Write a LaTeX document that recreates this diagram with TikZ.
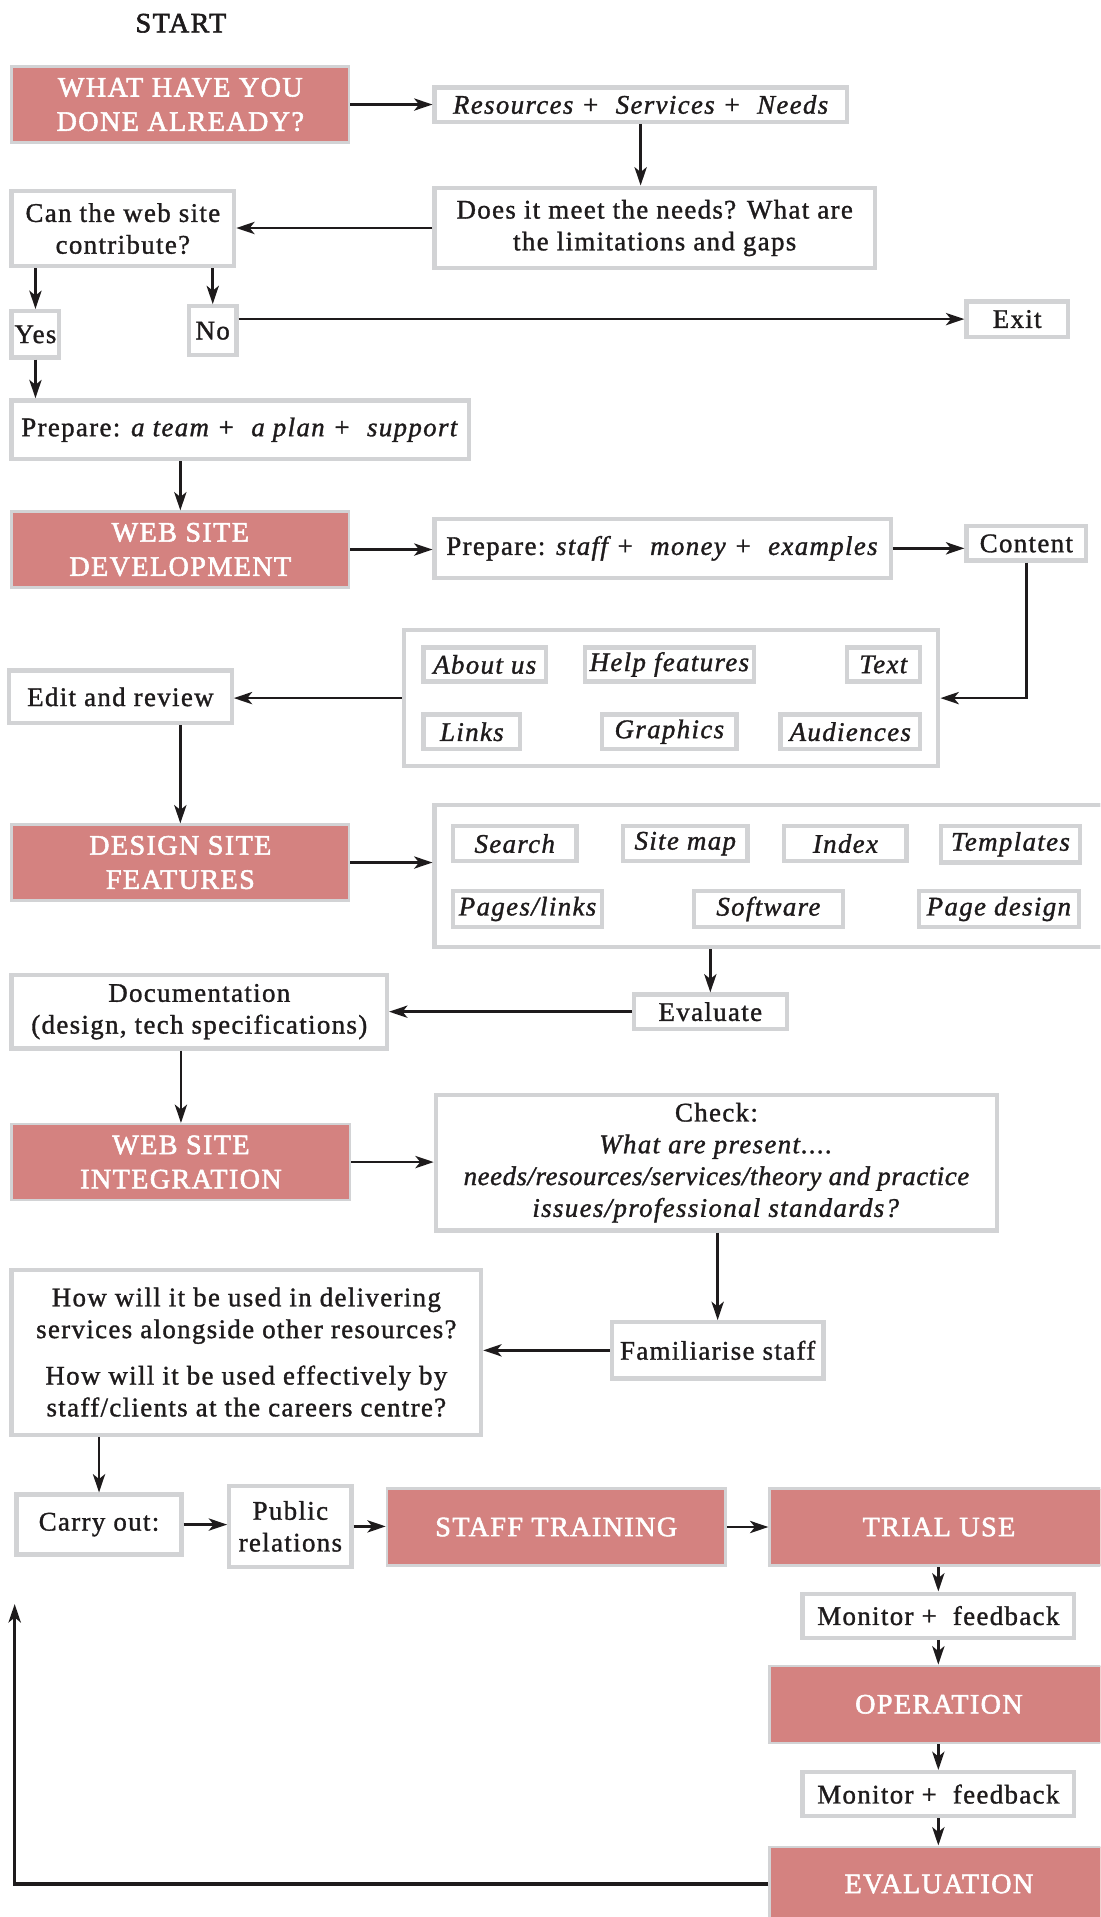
\documentclass[tikz,border=0pt]{standalone}
\usepackage{fontspec}
\setmainfont{Liberation Serif}[LetterSpace=5,FakeBold=1.2]
\usetikzlibrary{arrows.meta}
\definecolor{pinkc}{RGB}{212,130,128}
\definecolor{bordc}{RGB}{210,211,213}
\definecolor{inkc}{RGB}{30,27,28}
\newcommand\BX[7]{\node[#1, minimum width={#5-#3-3}, minimum height={#6-#4-3}] (#2) at ({(#3+#5)/2},{(#4+#6)/2}) {#7};}
\begin{document}
\begin{tikzpicture}[x=1pt,y=-1pt,
 gbox/.style={draw=bordc, line width=3.5pt, fill=white, text=inkc, inner sep=0pt, align=center, font=\fontsize{22}{26}\selectfont},
 ibox/.style={gbox, font=\fontsize{22}{26}\selectfont\itshape},
 pbox/.style={draw=bordc, line width=2pt, fill=pinkc, text=white, inner sep=0pt, align=center, font=\fontsize{23}{28}\selectfont\addfontfeatures{FakeBold=2}},
 grp/.style={draw=bordc, line width=3.5pt, fill=white, inner sep=0pt},
 arr/.style={draw=inkc, line width=2.1pt, -{Stealth[length=15pt,width=10pt,inset=4pt]}}]
\useasboundingbox (0,0) rectangle (900,1568);
\fill[white] (0,0) rectangle (900,1568);
\clip (0,0) rectangle (900,1568);

\node[font=\fontsize{23}{28}\selectfont\addfontfeatures{FakeBold=2}, text=inkc] (start) at (148,19) {START};
\BX{pbox}{what}{8}{53}{287}{118}{WHAT HAVE YOU\\DONE ALREADY?}
\BX{ibox}{res}{354}{70}{694}{101}{Resources +\ \ Services +\ \ Needs}
\BX{gbox}{does}{354}{152}{717}{221}{Does it meet the needs? What are\\the limitations and gaps}
\BX{gbox}{can}{8}{155}{193}{219}{Can the web site\\contribute?}
\BX{gbox}{yes}{8}{253}{50}{294}{Yes}
\BX{gbox}{no}{153}{249}{195}{292}{No}
\BX{gbox}{exit}{789}{245}{875}{277}{Exit}
\BX{gbox}{prepa}{8}{326}{385}{377}{Prepare: \textit{a team +\ \ a plan +\ \ support}}
\BX{pbox}{webdev}{8}{417}{287}{482}{WEB SITE\\DEVELOPMENT}
\BX{gbox}{prepb}{354}{423}{730}{474}{Prepare: \textit{staff +\ \ money +\ \ examples}}
\BX{gbox}{content}{789}{429}{890}{460}{Content}

\BX{grp}{grpa}{329}{514}{769}{628}{}
\BX{ibox}{about}{345}{528}{448}{559}{About us}
\BX{ibox}{help}{477}{528}{618}{559}{Help features}
\BX{ibox}{text}{691}{528}{754}{559}{Text}
\BX{ibox}{links}{345}{583}{427}{614}{Links}
\BX{ibox}{graphics}{491}{583}{604}{614}{Graphics}
\BX{ibox}{aud}{637}{583}{754}{614}{Audiences}

\BX{gbox}{edit}{6}{547}{191}{593}{Edit and review}
\BX{pbox}{design}{8}{673}{287}{738}{DESIGN SITE\\FEATURES}

\BX{grp}{grpb}{354}{657}{915}{776}{}
\BX{ibox}{search}{369}{674}{473}{706}{Search}
\BX{ibox}{sitemap}{508}{674}{613}{706}{Site map}
\BX{ibox}{index}{640}{674}{743}{706}{Index}
\BX{ibox}{templ}{768}{674}{885}{707}{Templates}
\BX{ibox}{pages}{369}{727}{494}{760}{Pages/links}
\BX{ibox}{soft}{566}{727}{691}{760}{Software}
\BX{ibox}{pdesign}{750}{727}{884}{760}{Page design}

\BX{gbox}{doc}{8}{796}{318}{859}{Documentation\\(design, tech specifications)}
\BX{gbox}{evaluate}{517}{812}{645}{843}{Evaluate}
\BX{pbox}{wsi}{8}{918}{288}{983}{WEB SITE\\INTEGRATION}
\BX{gbox}{check}{355}{894}{817}{1008}{Check:\\\textit{What are present....}\\{\addfontfeatures{LetterSpace=2}\itshape needs/resources/services/theory and practice}\\\textit{issues/professional standards?}}
\BX{gbox}{how}{8}{1037}{395}{1175}{How will it be used in delivering\\services alongside other resources?\\[12pt]How will it be used effectively by\\staff/clients at the careers centre?}
\BX{gbox}{fam}{499}{1080}{675}{1129}{Familiarise staff}
\BX{gbox}{carry}{12}{1221}{150}{1273}{Carry out:}
\BX{gbox}{public}{186}{1214}{289}{1283}{Public\\relations}
\BX{pbox}{staff}{315}{1216}{595}{1282}{STAFF TRAINING}
\BX{pbox}{trial}{628}{1216}{908}{1282}{TRIAL USE}
\BX{gbox}{mona}{655}{1302}{880}{1341}{Monitor +\ \ feedback}
\BX{pbox}{op}{628}{1361}{908}{1427}{OPERATION}
\BX{gbox}{monb}{655}{1448}{880}{1487}{Monitor +\ \ feedback}
\BX{pbox}{eval}{628}{1509}{908}{1573}{EVALUATION}
\coordinate (loopend) at (12,1312);

\draw[arr] (what.east) -- (what.east -| res.west);
\draw[arr] (res.south) -- (res.south |- does.north);
\draw[arr] (does.west) -- (does.west -| can.east);
\draw[arr] (can.south -| yes.north) -- (yes.north);
\draw[arr] (can.south -| no.north) -- (no.north);
\draw[arr] (exit.west -| no.east) -- (exit.west);
\draw[arr] (yes.south) -- (yes.south |- prepa.north);
\draw[arr] (webdev.north |- prepa.south) -- (webdev.north);
\draw[arr] (webdev.east) -- (webdev.east -| prepb.west);
\draw[arr] (prepb.east) -- (prepb.east -| content.west);
\draw[arr] (content.south) -- (content.south |- grpa.east) -- (grpa.east);
\draw[arr] (grpa.west) -- (grpa.west -| edit.east);
\draw[arr] (edit.south -| design.north) -- (design.north);
\draw[arr] (design.east) -- (design.east -| grpb.west);
\draw[arr] (evaluate.north |- grpb.south) -- (evaluate.north);
\draw[arr] (evaluate.west) -- (evaluate.west -| doc.east);
\draw[arr] (wsi.north |- doc.south) -- (wsi.north);
\draw[arr] (wsi.east) -- (wsi.east -| check.west);
\draw[arr] (fam.north |- check.south) -- (fam.north);
\draw[arr] (fam.west) -- (fam.west -| how.east);
\draw[arr] (carry.north |- how.south) -- (carry.north);
\draw[arr] (carry.east) -- (carry.east -| public.west);
\draw[arr] (public.east) -- (public.east -| staff.west);
\draw[arr] (staff.east) -- (staff.east -| trial.west);
\draw[arr] (trial.south -| mona.north) -- (mona.north);
\draw[arr] (mona.south) -- (mona.south |- op.north);
\draw[arr] (op.south -| monb.north) -- (monb.north);
\draw[arr] (monb.south) -- (monb.south |- eval.north);
\draw[arr, line width=2.6pt] (eval.west) -| (loopend);
\end{tikzpicture}
\end{document}
